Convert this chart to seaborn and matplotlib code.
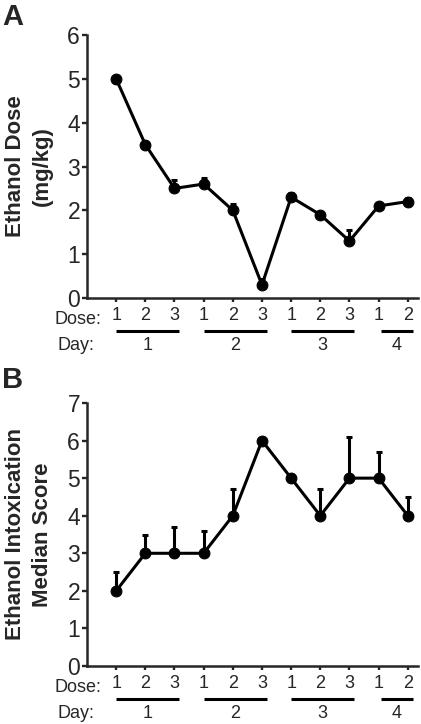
import numpy as np
import matplotlib
matplotlib.use("Agg")
import matplotlib.pyplot as plt
import matplotlib.transforms as mtransforms
import seaborn as sns

# --- data ---
dose_labels = ["1", "2", "3", "1", "2", "3", "1", "2", "3", "1", "2"]
day_names = ["1", "2", "3", "4"]
day_spans = [(0, 2), (3, 5), (6, 8), (9, 10)]

dose_mean = [5.0, 3.5, 2.5, 2.6, 2.0, 0.3, 2.3, 1.9, 1.3, 2.1, 2.2]
dose_err = [0.0, 0.0, 0.2, 0.13, 0.15, 0.14, 0.1, 0.05, 0.26, 0.05, 0.08]

score_median = [2, 3, 3, 3, 4, 6, 5, 4, 5, 5, 4]
score_err = [0.5, 0.5, 0.7, 0.6, 0.7, 0.0, 0.0, 0.7, 1.1, 0.7, 0.5]

sns.set_style("ticks")
plt.rcParams['font.family'] = ['Liberation Sans', 'DejaVu Sans']

W, H = 421, 724
fig = plt.figure(figsize=(W / 100, H / 100), dpi=100)


def fx(px):
    return px / W


def fy(py):
    return 1 - py / H


def draw_panel(ax, values, errs, ymax, ylabel, letter, letter_y):
    xpos = np.arange(len(values))
    ax.errorbar(xpos, values, yerr=[np.zeros(len(errs)), errs], fmt='none',
                ecolor='black', elinewidth=2.2, capsize=2, capthick=2.2, zorder=2)
    sns.lineplot(x=xpos, y=values, ax=ax, color='black', lw=2.2, marker='o',
                 markersize=7.8, markeredgecolor='black', zorder=3)

    ax.set_xlim(-1, 10.35)
    ax.set_ylim(0, ymax)
    ax.set_yticks(range(0, ymax + 1))
    ax.set_xticks(xpos)
    ax.set_xticklabels(dose_labels)
    ax.tick_params(axis='y', labelsize=16.5, length=3.5, width=1.7, pad=1.5)
    ax.tick_params(axis='x', labelsize=13, length=3, width=1.7, pad=3.5)
    for s in ['left', 'bottom']:
        ax.spines[s].set_linewidth(1.8)
    sns.despine(ax=ax)
    ax.set_xlabel('')
    ax.set_ylabel('')

    trans = mtransforms.blended_transform_factory(ax.transData, ax.transAxes)
    ax.text(-0.52, -0.083, "Dose:", transform=trans, ha='right', va='center',
            fontsize=13)
    ax.text(-2.0, -0.18, "Day:", transform=trans, ha='left', va='center',
            fontsize=13)
    for name, (a, b) in zip(day_names, day_spans):
        start = a if a < 9 else a + 0.08
        end = min(b + 0.17, 10.35)
        ax.plot([start, end], [-0.127, -0.127], color='black', lw=2.2,
                transform=trans, clip_on=False, solid_capstyle='butt')
        ax.text((start + end) / 2, -0.18, name, transform=trans, ha='center',
                va='center', fontsize=13)

    pos = ax.get_position()
    fig.text(fx(29), (pos.y0 + pos.y1) / 2, ylabel, rotation=90, ha='center',
             va='center', fontsize=16, fontweight='bold', linespacing=1.35)
    fig.text(fx(2), fy(letter_y), letter, ha='left', va='top', fontsize=21,
             fontweight='bold')


ax_a = fig.add_axes([fx(87), fy(298), fx(418) - fx(87), fy(35) - fy(298)])
draw_panel(ax_a, dose_mean, dose_err, 6, "Ethanol Dose\n(mg/kg)", "A", 3)

ax_b = fig.add_axes([fx(87), fy(666), fx(418) - fx(87), fy(403) - fy(666)])
draw_panel(ax_b, score_median, score_err, 7,
           "Ethanol Intoxication\nMedian Score", "B", 366)

fig.savefig("out.png", dpi=100)
